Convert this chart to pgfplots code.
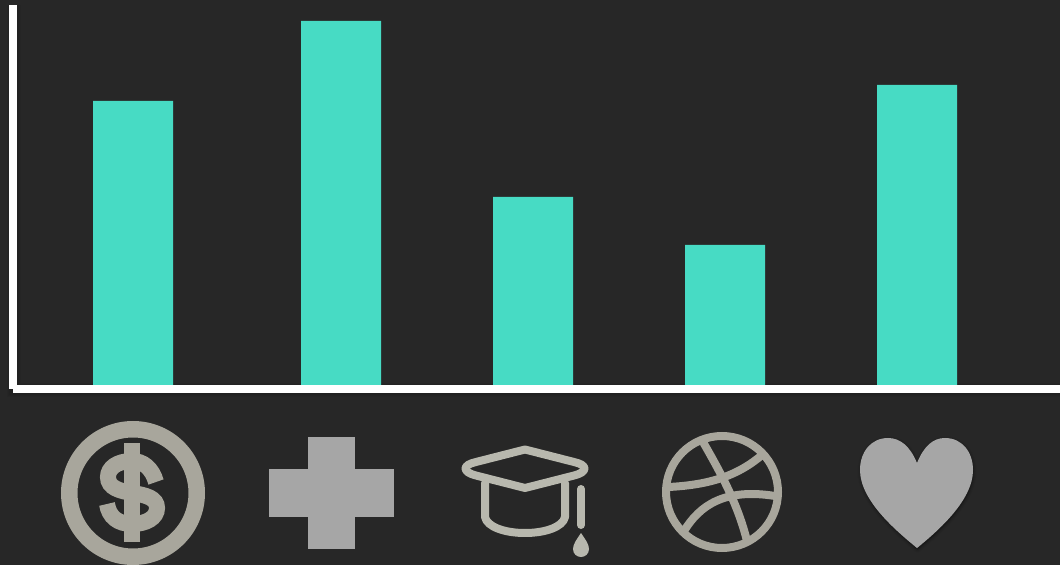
\documentclass[border=0pt]{standalone}
\usepackage{pgfplots}
\pgfplotsset{compat=1.18}
\definecolor{bgcol}{HTML}{272727}
\definecolor{barcol}{HTML}{47DBC4}
\definecolor{ringcol}{HTML}{A8A69C}
\definecolor{capcol}{HTML}{B8B8AE}
\definecolor{flatcol}{HTML}{A6A6A6}
\begin{document}
\begin{tikzpicture}
\clip (0,0) rectangle (1060pt,565pt);
\fill[bgcol] (0,0) rectangle (1060pt,565pt);

% soft shadow under the axis lines
\begin{scope}[yshift=565pt,x=1pt,y=-1pt]
  \foreach \w in {14,12,10} {
    \draw[black,opacity=0.05,line width=\w pt] (14,5) -- (14,390) -- (1060,390);
  }
\end{scope}

\begin{axis}[
    at={(13pt,176pt)},
    anchor=south west,
    scale only axis,
    width=1047pt,
    height=384pt,
    xmin=13, xmax=1060,
    ymin=-1, ymax=95,
    axis x line=bottom,
    axis y line=left,
    axis line style={-,white,line width=8pt},
    xtick=\empty,
    ytick=\empty,
    clip=false,
    ybar,
    bar width=80,
]
\addplot[fill=barcol,draw=none] coordinates {
    (133,71)
    (341,91)
    (533,47)
    (725,35)
    (917,75)
};
\end{axis}

\begin{scope}[yshift=565pt,x=1pt,y=-1pt]
  % dollar
  \draw[ringcol,line width=16.5pt] (133,493) circle (63.75);
  \draw[ringcol,line width=16pt] (156,482) .. controls (152,468) and (143,461) .. (132,461) .. controls (117,461) and (108,468) .. (108,477) .. controls (108,488) and (120,491) .. (132,493) .. controls (146,495) and (157,498) .. (157,508) .. controls (157,518) and (146,524) .. (132,524) .. controls (118,524) and (109,517) .. (107,504);
  \fill[ringcol] (124,443) rectangle (140,542);

  % plus
  \fill[flatcol] (308,437) rectangle (355,549);
  \fill[flatcol] (269,469) rectangle (394,517);

  % graduation cap
  \begin{scope}[capcol,line width=8pt,line cap=round,line join=round]
    \draw (525,449.5) -- (476,462) .. controls (462,465) and (462,472) .. (476,475.5) -- (525,488) -- (574,475.5) .. controls (588,472) and (588,465) .. (574,462) -- cycle;
    \draw (485,483) -- (485,517) .. controls (487,527) and (505,533) .. (525,533) .. controls (545,533) and (563,527) .. (565,517) -- (565,483);
    \draw (581,489) -- (581,525);
    \fill (581,533) .. controls (577,539) and (573,544) .. (573,549) .. controls (573,554) and (577,557) .. (581,557) .. controls (585,557) and (589,554) .. (589,549) .. controls (589,544) and (585,539) .. (581,533) -- cycle;
  \end{scope}

  % basketball
  \begin{scope}[ringcol,line width=8pt]
    \draw (722,492) circle (56);
    \draw (669,487) .. controls (705,485) and (735,478) .. (762,455);
    \draw (703,442) .. controls (722,475) and (738,505) .. (747,541);
    \draw (684,531) .. controls (700,505) and (725,488) .. (775,496);
  \end{scope}

  % heart
  \foreach \o/\a in {6/0.03,4/0.05,2/0.07} {
    \fill[black,opacity=\a,shift={(0.5,1.5)},draw=black,line width=\o pt,line join=round]
      (917,463) .. controls (910,446) and (900,438) .. (888,438) .. controls (871,438) and (860,452) .. (860,470) .. controls (860,500) and (895,530) .. (917,548) .. controls (939,530) and (973,500) .. (973,470) .. controls (973,452) and (962,438) .. (945,438) .. controls (933,438) and (924,446) .. (917,463) -- cycle;
  }
  \fill[flatcol] (917,463) .. controls (910,446) and (900,438) .. (888,438) .. controls (871,438) and (860,452) .. (860,470) .. controls (860,500) and (895,530) .. (917,548) .. controls (939,530) and (973,500) .. (973,470) .. controls (973,452) and (962,438) .. (945,438) .. controls (933,438) and (924,446) .. (917,463) -- cycle;
\end{scope}
\end{tikzpicture}
\end{document}
